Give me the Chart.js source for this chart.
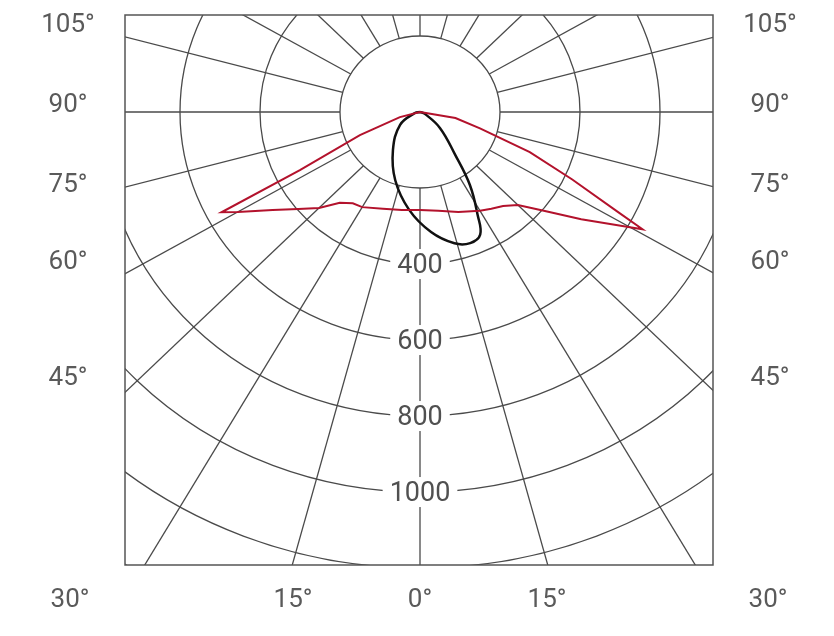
<!DOCTYPE html>
<html>
<head>
<meta charset="UTF-8">
<script src="https://cdn.jsdelivr.net/npm/chart.js"></script>
<style>
  html, body { margin: 0; padding: 0; background: #fff; }
  #wrap { width: 834px; height: 636px; }
</style>
</head>
<body>
<div id="wrap"><canvas id="polar" width="834" height="636"></canvas></div>
<script>
// C0-C180 plane (red): angle from nadir (deg), intensity (cd)
const redAngles = [-90, -75, -68, -63, -62, -60, -55, -50, -45, -40, -35, -30, -20, -10, 0, 10, 20, 30, 35, 40, 45, 50, 55, 60, 61, 62, 65, 69, 74, 80, 90];
const redValues = [0, 52, 162, 337, 562, 526, 450, 397, 357, 312, 293, 289, 271, 262, 258, 264, 280, 300, 311, 323, 346, 404, 492, 606, 636, 560, 420, 294, 156, 90, 0];
// C90-C270 plane (black)
const blackAngles = [-90, -78, -56, -34, -19, -6, 5, 14, 20, 25, 28, 33, 38, 50, 68, 90];
const blackValues = [0, 13, 60, 121, 190, 259, 317, 356, 367, 356, 307, 229, 143, 65, 13, 0];
// grid and tick labels
const ringValues = [200, 400, 600, 800, 1000, 1200, 1400, 1600, 1800];
const ringLabels = ['400', '600', '800', '1000'];
const sideLabels = ['105°', '90°', '75°', '60°', '45°'];
const sideLabelY = [25, 105, 185, 262, 378];
const bottomLabels = ['30°', '15°', '0°', '15°', '30°'];
const bottomLabelX = [70, 293, 420, 547, 768];

function toXY(angles, values) {
  return angles.map((a, i) => {
    const t = a * Math.PI / 180;
    return { x: values[i] * Math.sin(t), y: -values[i] * Math.cos(t) };
  });
}

const gridPlugin = {
  id: 'polarGrid',
  beforeDatasetsDraw(chart) {
    const { ctx, chartArea: ca, scales: { x, y } } = chart;
    const cx = x.getPixelForValue(0), cy = y.getPixelForValue(0);
    const sx = (x.getPixelForValue(100) - cx) / 100;
    const sy = (cy - y.getPixelForValue(100)) / 100;
    ctx.save();
    ctx.beginPath();
    ctx.rect(ca.left, ca.top, ca.right - ca.left, ca.bottom - ca.top);
    ctx.clip();
    ctx.strokeStyle = '#4a4a4a';
    ctx.lineWidth = 1.3;
    ringValues.forEach(r => {
      ctx.beginPath();
      ctx.ellipse(cx, cy, r * sx, r * sy, 0, 0, Math.PI * 2);
      ctx.stroke();
    });
    for (let a = 0; a < 360; a += 15) {
      const t = a * Math.PI / 180;
      ctx.beginPath();
      ctx.moveTo(cx + 200 * sx * Math.sin(t), cy + 200 * sy * Math.cos(t));
      ctx.lineTo(cx + 3000 * sx * Math.sin(t), cy + 3000 * sy * Math.cos(t));
      ctx.stroke();
    }
    // intensity labels on the nadir line
    ctx.font = '27px Roboto';
    ctx.textAlign = 'center';
    ctx.textBaseline = 'middle';
    ringLabels.forEach(l => {
      const py = cy + Number(l) * sy;
      const w = ctx.measureText(l).width + 14;
      ctx.fillStyle = '#fff';
      ctx.fillRect(cx - w / 2, py - 15, w, 30);
      ctx.fillStyle = '#505050';
      ctx.fillText(l, cx, py + 2);
    });
    ctx.restore();
    ctx.save();
    ctx.strokeStyle = '#555';
    ctx.lineWidth = 1.5;
    ctx.strokeRect(ca.left, ca.top, ca.right - ca.left, ca.bottom - ca.top);
    ctx.font = '26px Roboto';
    ctx.fillStyle = '#5a5a5a';
    ctx.textAlign = 'center';
    ctx.textBaseline = 'middle';
    sideLabels.forEach((l, i) => {
      ctx.fillText(l, 68, sideLabelY[i]);
      ctx.fillText(l, 770, sideLabelY[i]);
    });
    bottomLabels.forEach((l, i) => ctx.fillText(l, bottomLabelX[i], 600));
    ctx.restore();
  }
};

new Chart(document.getElementById('polar'), {
  type: 'scatter',
  data: {
    datasets: [
      { data: toXY(redAngles, redValues), showLine: true, borderColor: '#b3122c', borderWidth: 2, pointRadius: 0, tension: 0 },
      { data: toXY(blackAngles, blackValues), showLine: true, borderColor: '#111', borderWidth: 2.5, pointRadius: 0, tension: 0.4 }
    ]
  },
  options: {
    responsive: false,
    animation: false,
    layout: { padding: { left: 125, right: 121, top: 15, bottom: 71 } },
    plugins: { legend: { display: false }, tooltip: { enabled: false } },
    scales: {
      x: { type: 'linear', display: false, min: -737.5, max: 732.5 },
      y: { type: 'linear', display: false, min: -1192, max: 255.3 }
    }
  },
  plugins: [gridPlugin]
});
</script>
</body>
</html>
